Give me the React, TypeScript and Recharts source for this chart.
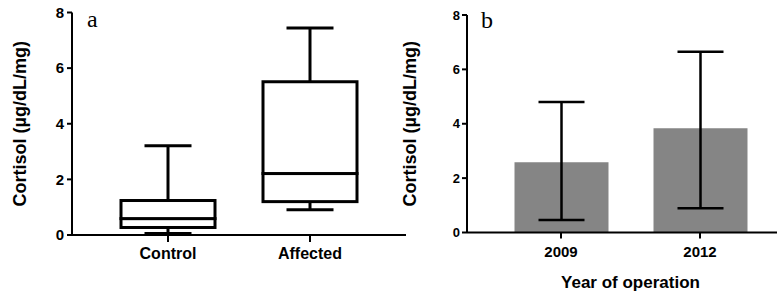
import { Bar, ComposedChart, ErrorBar, XAxis, YAxis } from 'recharts';

// panel a: box plot
const groups = ['Control', 'Affected'];
const whiskerLow = [0.05, 0.91];
const q1 = [0.27, 1.2];
const median = [0.59, 2.21];
const q3 = [1.24, 5.51];
const whiskerHigh = [3.21, 7.44];

// panel b: bars with error bars
const years = ['2009', '2012'];
const means = [2.58, 3.83];
const errLow = [2.12, 2.94];
const errHigh = [2.22, 2.82];

const yTicks = [0, 2, 4, 6, 8];

const boxData = groups.map((name, i) => ({
  name,
  base: whiskerLow[i],
  lowW: q1[i] - whiskerLow[i],
  lowBox: median[i] - q1[i],
  highBox: q3[i] - median[i],
  highW: whiskerHigh[i] - q3[i],
}));

const barData = years.map((year, i) => ({
  year,
  mean: means[i],
  err: [errLow[i], errHigh[i]],
}));

const FONT = '"Liberation Sans", Arial, sans-serif';
const axisStroke = { stroke: '#000', strokeWidth: 2 };

const BoxPart = (p: any) => (
  <rect x={p.x} y={p.y} width={p.width} height={p.height} fill="#fff" stroke="#000" strokeWidth={3} />
);

const LowWhisker = (p: any) => {
  const cx = p.x + p.width / 2;
  const cap = p.width / 4;
  const bottom = p.y + p.height;
  return (
    <g stroke="#000" strokeWidth={3}>
      <line x1={cx} x2={cx} y1={p.y} y2={bottom} />
      <line x1={cx - cap} x2={cx + cap} y1={bottom} y2={bottom} />
    </g>
  );
};

const HighWhisker = (p: any) => {
  const cx = p.x + p.width / 2;
  const cap = p.width / 4;
  return (
    <g stroke="#000" strokeWidth={3}>
      <line x1={cx} x2={cx} y1={p.y} y2={p.y + p.height} />
      <line x1={cx - cap} x2={cx + cap} y1={p.y} y2={p.y} />
    </g>
  );
};

const yLabel = {
  value: 'Cortisol (µg/dL/mg)',
  angle: -90,
  position: 'insideLeft' as const,
  offset: 20,
  style: { textAnchor: 'middle', fontFamily: FONT, fontWeight: 700, fontSize: 18, fill: '#000' },
};

const letterStyle = {
  position: 'absolute' as const,
  fontFamily: '"Liberation Serif", serif',
  fontSize: 24,
  lineHeight: '24px',
};

export default function App() {
  return (
    <div
      style={{
        position: 'absolute',
        left: 0,
        top: 0,
        width: 777,
        height: 296,
        overflow: 'hidden',
        background: '#fff',
      }}
    >
      <div style={{ position: 'absolute', left: 0, top: 0 }}>
        <ComposedChart width={420} height={296} data={boxData} margin={{ top: 12.5, right: 14, left: 0, bottom: 0 }}>
          <XAxis
            dataKey="name"
            height={61}
            padding={{ left: 25, right: 25 }}
            axisLine={axisStroke}
            tickLine={axisStroke}
            tickSize={7}
            tickMargin={6}
            tick={{ fontSize: 16, fontWeight: 700, fill: '#000', fontFamily: FONT }}
          />
          <YAxis
            width={72}
            domain={[0, 8]}
            ticks={yTicks}
            axisLine={axisStroke}
            tickLine={axisStroke}
            tickSize={5}
            tickMargin={3}
            tick={{ fontSize: 15, fontWeight: 700, fill: '#000', fontFamily: FONT }}
            label={yLabel}
          />
          <Bar dataKey="base" stackId="box" barSize={94} fill="none" isAnimationActive={false} />
          <Bar dataKey="lowW" stackId="box" barSize={94} shape={LowWhisker} isAnimationActive={false} />
          <Bar dataKey="lowBox" stackId="box" barSize={94} shape={BoxPart} isAnimationActive={false} />
          <Bar dataKey="highBox" stackId="box" barSize={94} shape={BoxPart} isAnimationActive={false} />
          <Bar dataKey="highW" stackId="box" barSize={94} shape={HighWhisker} isAnimationActive={false} />
        </ComposedChart>
      </div>

      <div style={{ position: 'absolute', left: 390, top: 0 }}>
        <ComposedChart width={404} height={296} data={barData} margin={{ top: 15, right: 0, left: 0, bottom: 0 }}>
          <XAxis
            dataKey="year"
            height={63.5}
            padding={{ left: 24.5, right: 24.5 }}
            axisLine={axisStroke}
            tickLine={axisStroke}
            tickSize={6}
            tickMargin={8}
            tick={{ fontSize: 15, fontWeight: 700, fill: '#000', fontFamily: FONT }}
            label={{
              value: 'Year of operation',
              position: 'insideBottom',
              offset: 8,
              style: { fontFamily: FONT, fontWeight: 700, fontSize: 17, fill: '#000' },
            }}
          />
          <YAxis
            width={77}
            domain={[0, 8]}
            ticks={yTicks}
            axisLine={axisStroke}
            tickLine={axisStroke}
            tickSize={5}
            tickMargin={2}
            tick={{ fontSize: 13, fontWeight: 700, fill: '#000', fontFamily: FONT }}
            label={yLabel}
          />
          <Bar dataKey="mean" barSize={94} fill="#858585" isAnimationActive={false}>
            <ErrorBar dataKey="err" direction="y" width={23} stroke="#000" strokeWidth={2.5} />
          </Bar>
        </ComposedChart>
      </div>

      <div style={{ ...letterStyle, left: 87, top: 6.9 }}>a</div>
      <div style={{ ...letterStyle, left: 481, top: 7.9 }}>b</div>
    </div>
  );
}
